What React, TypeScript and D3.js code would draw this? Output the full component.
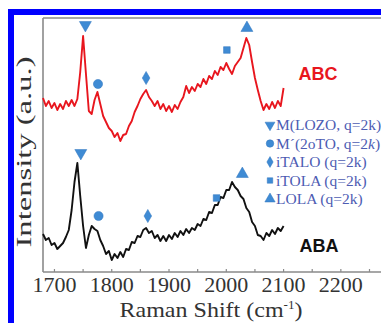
import React from "react";
import * as d3 from "d3";

const WAVENUMBERS = [
  1680, 1685, 1690, 1695, 1700, 1705, 1710, 1715, 1720, 1725, 1730, 1735, 1740, 1745, 1750, 1755, 1760,
  1765, 1770, 1775, 1780, 1785, 1790, 1795, 1800, 1805, 1810, 1815, 1820, 1825, 1830, 1835, 1840, 1845,
  1850, 1855, 1860, 1865, 1870, 1875, 1880, 1885, 1890, 1895, 1900, 1905, 1910, 1915, 1920, 1925, 1930,
  1935, 1940, 1945, 1950, 1955, 1960, 1965, 1970, 1975, 1980, 1985, 1990, 1995, 2000, 2005, 2010, 2015,
  2020, 2025, 2030, 2035, 2040, 2045, 2050, 2055, 2060, 2065, 2070, 2075, 2080, 2085, 2090, 2095, 2100,
];

const ABC_VALUES = [
  174, 166, 171, 164, 169, 162, 168, 163, 171, 166, 172, 166, 173, 200, 236, 198, 161,
  158, 172, 180, 168, 156, 150, 144, 141, 135, 139, 131, 137, 138, 146, 151, 160, 166,
  173, 178, 182, 175, 171, 166, 171, 163, 168, 161, 166, 160, 167, 163, 170, 175, 186,
  179, 185, 181, 188, 185, 193, 188, 196, 193, 201, 197, 205, 202, 209, 203, 198, 206,
  210, 214, 224, 234, 227, 210, 194, 182, 171, 162, 168, 163, 170, 164, 171, 166, 184,
];

const ABA_VALUES = [
  38, 32, 34, 27, 29, 23, 26, 29, 35, 42, 62, 90, 109, 76, 46, 24, 37,
  46, 43, 41, 32, 26, 18, 21, 12, 18, 14, 20, 15, 23, 22, 30, 29, 36,
  35, 42, 44, 39, 41, 34, 37, 31, 36, 31, 37, 33, 39, 35, 41, 37, 43,
  39, 44, 42, 48, 46, 53, 52, 60, 59, 67, 67, 75, 74, 82, 82, 90, 85,
  82, 76, 73, 64, 60, 50, 46, 37, 36, 32, 39, 36, 42, 38, 44, 41, 46,
];

const MARKER_TYPES = ["down", "circle", "diamond", "square", "up"];
const ABC_MARKER_X = [1754, 1776, 1860, 2001, 2036];
const ABC_MARKER_Y = [247, 188, 194, 222, 244];
const ABA_MARKER_X = [1746, 1777, 1863, 1983, 2028];
const ABA_MARKER_Y = [119, 56, 56, 74, 98];

const LEGEND_LABELS = [
  ["M(LOZO, q=2k)", ""],
  ["M\u00b4(2oTO, q=2", "k", ")"],
  ["iTALO (q=2k)", ""],
  ["iTOLA (q=2k)", ""],
  ["LOLA (q=2k)", ""],
];

const X_TICKS = [1700, 1800, 1900, 2000, 2100, 2200];
const X_MINOR = [1750, 1850, 1950, 2050, 2150, 2250];

const W = 381;
const H = 323;
const LEFT = 43;
const TOP = 18;
const BOTTOM = 272;

const RED = "#e8161e";
const MARK = "#3f8bd4";
const LEG = "#4d5cb3";
const FRAME = "#8a8a8a";
const SERIF = "'Liberation Serif', 'Times New Roman', serif";
const SANS = "'Liberation Sans', Arial, sans-serif";

function markerPath(type: string, size: number) {
  const map: Record<string, d3.SymbolType> = {
    down: d3.symbolTriangle,
    up: d3.symbolTriangle,
    circle: d3.symbolCircle,
    diamond: d3.symbolDiamond,
    square: d3.symbolSquare,
  };
  return d3.symbol(map[type], size)() as string;
}

function Marker({ type, x, y, size }: { type: string; x: number; y: number; size: number }) {
  const rot = type === "down" ? 180 : 0;
  return (
    <path
      d={markerPath(type, size)}
      transform={`translate(${x},${y}) rotate(${rot})`}
      fill={MARK}
      stroke="#2f74bf"
      strokeWidth={0.5}
    />
  );
}

export default function App() {
  const x = d3.scaleLinear().domain([1680, 2280]).range([LEFT, LEFT + 600 * 0.5728]);
  const y = d3.scaleLinear().domain([0, 254]).range([BOTTOM, TOP]);

  const line = d3
    .line<number>()
    .x((_, i) => x(WAVENUMBERS[i]))
    .y((d) => y(d));

  const sizes: Record<string, number> = { down: 62, up: 62, circle: 66, diamond: 50, square: 44 };
  const legSizes: Record<string, number> = { down: 42, up: 46, circle: 44, diamond: 34, square: 30 };

  return (
    <svg
      width={W}
      height={H}
      style={{ position: "absolute", left: 0, top: 0, background: "#fff" }}
    >
      <rect x={0} y={0} width={W} height={H} fill="#fff" />
      {/* blue figure border */}
      <rect x={8} y={9} width={W - 8} height={6} fill="#0000ff" />
      <rect x={8} y={9} width={6} height={H - 9} fill="#0000ff" />

      {/* frame */}
      <line x1={LEFT} x2={W} y1={TOP} y2={TOP} stroke={FRAME} strokeWidth={1.6} />
      <line x1={LEFT} x2={LEFT} y1={TOP} y2={BOTTOM} stroke={FRAME} strokeWidth={1.6} />
      <line x1={LEFT} x2={W} y1={BOTTOM} y2={BOTTOM} stroke={FRAME} strokeWidth={1.6} />

      {X_TICKS.concat(X_MINOR).map((t) => (
        <line key={t} x1={x(t)} x2={x(t)} y1={BOTTOM} y2={BOTTOM - 3} stroke={FRAME} strokeWidth={1.2} />
      ))}
      {X_TICKS.map((t) => (
        <text
          key={t}
          x={x(t)}
          y={292}
          textAnchor="middle"
          fontFamily={SERIF}
          fontSize={22}
          fill="#333"
        >
          {t}
        </text>
      ))}

      {/* series */}
      <path d={line(ABC_VALUES) as string} fill="none" stroke={RED} strokeWidth={1.9} strokeLinejoin="round" />
      <path d={line(ABA_VALUES) as string} fill="none" stroke="#111" strokeWidth={1.9} strokeLinejoin="round" />

      {MARKER_TYPES.map((m, i) => (
        <Marker key={"c" + i} type={m} x={x(ABC_MARKER_X[i])} y={y(ABC_MARKER_Y[i])} size={sizes[m]} />
      ))}
      {MARKER_TYPES.map((m, i) => (
        <Marker key={"a" + i} type={m} x={x(ABA_MARKER_X[i])} y={y(ABA_MARKER_Y[i])} size={sizes[m]} />
      ))}

      <text x={318} y={80} textAnchor="middle" fontFamily={SANS} fontWeight="bold" fontSize={18} fill={RED}>
        ABC
      </text>
      <text x={319} y={252} textAnchor="middle" fontFamily={SANS} fontWeight="bold" fontSize={18} fill="#111">
        ABA
      </text>

      {/* legend */}
      {LEGEND_LABELS.map((lab, i) => {
        const ly = 125 + i * 18.5;
        return (
          <g key={i}>
            <Marker type={MARKER_TYPES[i]} x={270} y={ly} size={legSizes[MARKER_TYPES[i]]} />
            <text x={276} y={ly + 5} fontFamily={SERIF} fontSize={15.5} fill={LEG}>
              {lab[0]}
              {lab[1] ? <tspan fontStyle="italic">{lab[1]}</tspan> : null}
              {lab[2] ? lab[2] : null}
            </text>
          </g>
        );
      })}

      {/* axis titles */}
      <text
        x={211}
        y={317}
        textAnchor="middle"
        fontFamily={SERIF}
        fontSize={22}
        fill="#333"
        textLength={183}
        lengthAdjust="spacingAndGlyphs"
      >
        Raman Shift (cm
        <tspan dy={-8} fontSize={12}>-1</tspan>
        <tspan dy={8}>)</tspan>
      </text>
      <text
        transform="translate(31,152) rotate(-90)"
        textAnchor="middle"
        fontFamily={SERIF}
        fontSize={22}
        fill="#333"
        textLength={191}
        lengthAdjust="spacingAndGlyphs"
      >
        Intensity (a.u.)
      </text>
    </svg>
  );
}
